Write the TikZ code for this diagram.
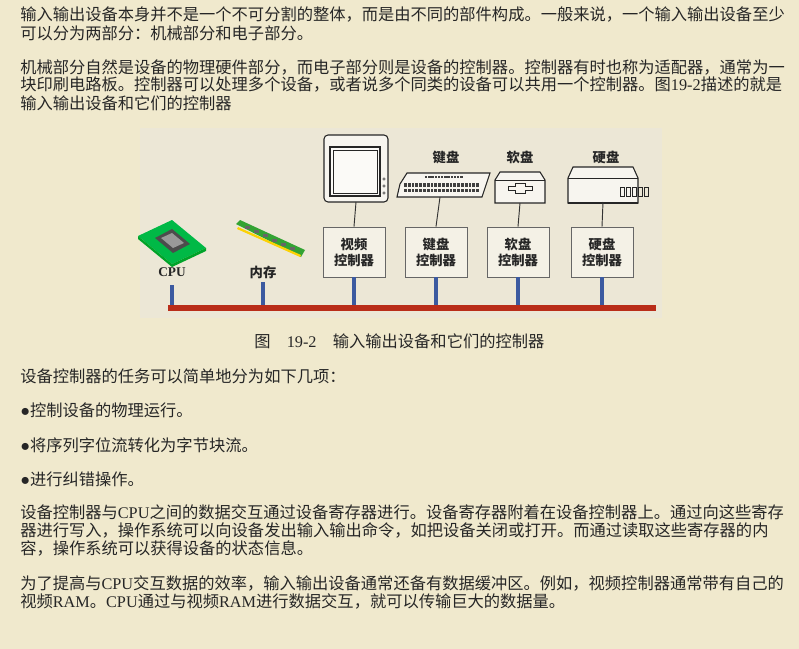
\documentclass[tikz,border=0pt]{standalone}
\usepackage{fontspec}
\setmainfont{Liberation Serif}
\newfontfamily\cjk{Noto Sans CJK SC}
\newcommand{\Lt}[1]{{\rmfamily #1}}
\definecolor{bgpage}{RGB}{240,233,205}
\definecolor{bgfig}{RGB}{236,231,214}
\definecolor{busred}{RGB}{185,45,25}
\definecolor{stubblue}{RGB}{60,90,160}
\begin{document}
\begin{tikzpicture}[x=0.75pt,y=-0.75pt,
  txt/.style={anchor=west,inner sep=0pt,font=\cjk\fontsize{12.2pt}{14pt}\selectfont,text=black!85},
  lbl/.style={inner sep=0pt,font=\cjk\bfseries\fontsize{10pt}{12pt}\selectfont,align=center,text=black!85},
  ctrl/.style={draw=black!60,fill=white!40!bgfig,line width=0.6pt,minimum width=46.5pt,minimum height=37.5pt,lbl},
  dev/.style={draw=black!85,line width=0.8pt,fill=white!60!bgfig},
  stub/.style={draw=stubblue,line width=2.6pt},
  wire/.style={draw=black!80,line width=0.7pt}]
\fill[bgpage] (0,0) rectangle (799,649);
\useasboundingbox (0,0) rectangle (799,649);
\fill[bgfig] (140,128) rectangle (662,318);
% text
\node[txt] (t1) at (20,15) {输入输出设备本身并不是一个不可分割的整体，而是由不同的部件构成。一般来说，一个输入输出设备至少};
\node[txt] (t2) at (20,33) {可以分为两部分：机械部分和电子部分。};
\node[txt] (t3) at (20,67) {机械部分自然是设备的物理硬件部分，而电子部分则是设备的控制器。控制器有时也称为适配器，通常为一};
\node[txt] (t4) at (20,85) {块印刷电路板。控制器可以处理多个设备，或者说多个同类的设备可以共用一个控制器。图\Lt{19-2}描述的就是};
\node[txt] (t5) at (20,103) {输入输出设备和它们的控制器};
\node[txt] (cap) at (254,341) {图\quad\Lt{19-2}\quad 输入输出设备和它们的控制器};
\node[txt] (t6) at (20,376) {设备控制器的任务可以简单地分为如下几项：};
\node[txt] (t7) at (20,410) {\Lt{●}控制设备的物理运行。};
\node[txt] (t8) at (20,445) {\Lt{●}将序列字位流转化为字节块流。};
\node[txt] (t9) at (20,479) {\Lt{●}进行纠错操作。};
\node[txt] (t10) at (20,512) {设备控制器与\Lt{CPU}之间的数据交互通过设备寄存器进行。设备寄存器附着在设备控制器上。通过向这些寄存};
\node[txt] (t11) at (20,530) {器进行写入，操作系统可以向设备发出输入输出命令，如把设备关闭或打开。而通过读取这些寄存器的内};
\node[txt] (t12) at (20,548) {容，操作系统可以获得设备的状态信息。};
\node[txt] (t13) at (20,583) {为了提高与\Lt{CPU}交互数据的效率，输入输出设备通常还备有数据缓冲区。例如，视频控制器通常带有自己的};
\node[txt] (t14) at (20,601) {视频\Lt{RAM}。\Lt{CPU}通过与视频\Lt{RAM}进行数据交互，就可以传输巨大的数据量。};
% bus
\coordinate (busL) at (168,308); \coordinate (busR) at (656,308);
% controllers
\node[ctrl] (cv) at (354,252) {视频\\控制器};
\node[ctrl] (ck) at (436,252) {键盘\\控制器};
\node[ctrl] (cf) at (518,252) {软盘\\控制器};
\node[ctrl] (ch) at (602,252) {硬盘\\控制器};
% labels
\node[lbl] (lk) at (446,157) {键盘};
\node[lbl] (lf) at (520,157) {软盘};
\node[lbl] (lh) at (606,157) {硬盘};
\node[lbl,font=\rmfamily\bfseries\fontsize{10pt}{12pt}\selectfont] (lcpu) at (172,272) {CPU};
\node[lbl] (lmem) at (263,272) {内存};
% devices
\draw[dev,rounded corners=3pt] (324,135) rectangle (388,202);
\coordinate (mon) at (356,202);
\draw[dev,fill=white!80!bgfig] (330,147) rectangle (380,196);
\draw[black!85] (333,150) rectangle (377,193);
\foreach \yy in {179,186,193} \draw[black!70] (384,\yy) circle (1.3);
% keyboard
\draw[dev] (400,184) -- (407,173) -- (490,173) -- (482,197) -- (397,197) -- cycle;
\foreach \i in {0,...,11} \fill[black!75] (425+\i*3.2,176) rectangle ++(2.3,2.5);
\foreach \i in {0,...,19} \fill[black!75] (404+\i*3.8,183) rectangle ++(2.8,4);
\foreach \i in {0,...,19} \fill[black!75] (404+\i*3.8,189) rectangle ++(2.8,3);
\coordinate (kb) at (440,197);
% floppy
\draw[dev] (495,180) -- (500,172) -- (540,172) -- (545,180) -- (545,203) -- (495,203) -- cycle;
\draw[black!85] (495,180) -- (545,180);
\draw[black!85,line width=0.7pt] (508,186) -- (515,186) -- (515,183) -- (525,183) -- (525,186) -- (532,186) -- (532,190) -- (525,190) -- (525,193) -- (515,193) -- (515,190) -- (508,190) -- cycle;
\coordinate (fl) at (520,203);
% hard disk
\draw[dev] (568,178) -- (573,167) -- (633,167) -- (638,178) -- (638,203) -- (568,203) -- cycle;
\draw[black!85] (568,178) -- (638,178);
\draw[black!85,line width=1.5pt] (568,203) -- (638,203);
\foreach \i in {0,...,4} \draw[black!85] (620+\i*6,187) rectangle ++(4,9);
\coordinate (hd) at (603,202);
% wires
\draw[wire] (mon) -- (cv.north);
\draw[wire] (kb) -- (ck.north);
\draw[wire] (fl) -- (cf.north);
\draw[wire] (hd) -- (ch.north);
% CPU chip
\begin{scope}[shift={(172,240)}]
\fill[green!45!teal] (-34,-4) -- (0,-20) -- (34,8) -- (0,24) -- cycle;
\fill[green!60!teal!80!black] (-34,-4) -- (0,24) -- (34,8) -- (34,11) -- (0,27) -- (-34,-1) -- cycle;
\fill[black!70] (-17,-2) -- (0,-11) -- (18,4) -- (1,13) -- cycle;
\fill[black!40] (-11,-2) -- (0,-7) -- (12,3) -- (1,8) -- cycle;
\end{scope}
% RAM
\fill[green!55!black!80] (236,224) -- (240,220) -- (305,250) -- (301,257) -- cycle;
\fill[yellow!70!orange] (238,227) -- (301,255) -- (300,257) -- (237,229) -- cycle;
\foreach \i in {0,...,5} \fill[black!60] (245+\i*9,226+\i*4.2) rectangle ++(5,3);
\coordinate (cpuS) at (172,285); \coordinate (memS) at (263,282);
% stubs
\draw[stub] (cpuS) -- (cpuS |- busL);
\draw[stub] (memS) -- (memS |- busL);
\draw[stub] (cv.south) -- (cv.south |- busL);
\draw[stub] (ck.south) -- (ck.south |- busL);
\draw[stub] (cf.south) -- (cf.south |- busL);
\draw[stub] (ch.south) -- (ch.south |- busL);
\draw[busred,line width=5pt] (busL) -- (busR);
\end{tikzpicture}
\end{document}
